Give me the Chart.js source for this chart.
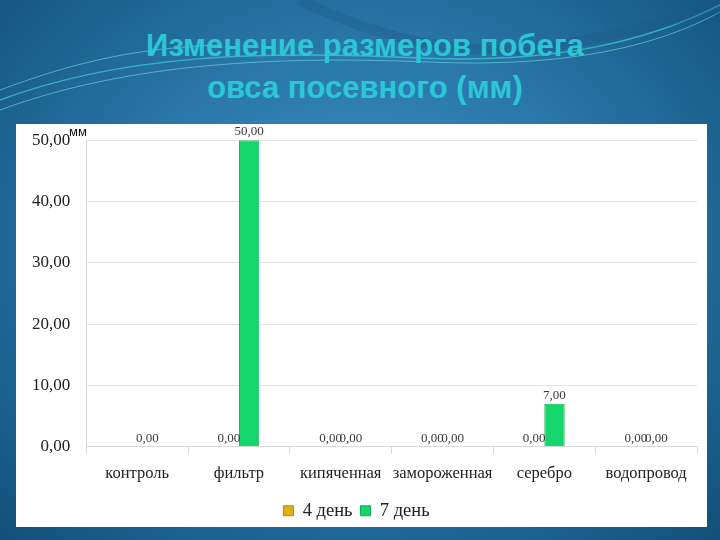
<!DOCTYPE html>
<html>
<head>
<meta charset="utf-8">
<script src="https://cdn.jsdelivr.net/npm/chart.js@4.4.1/dist/chart.umd.min.js"></script>
<style>
    html, body { margin: 0; padding: 0; }
    body {
        width: 720px; height: 540px; overflow: hidden; position: relative;
        background: radial-gradient(ellipse at 50% 45%, #3d8fc2 0%, #2a78aa 45%, #1a5f8c 80%, #134f77 100%);
        font-family: "Liberation Sans", Arial, sans-serif;
    }
    #waves { position: absolute; left: 0; top: 0; }
    #title {
        position: absolute; left: 0; top: 25px; width: 730px;
        text-align: center; color: #2cc7d6; font-weight: bold;
        font-size: 31px; line-height: 42px;
    }
    #panel {
        position: absolute; left: 16px; top: 124px; width: 691px; height: 403px;
        background: #fff;
    }
    #chart { position: absolute; left: 0; top: -10px; }
    #unit {
        position: absolute; left: 53px; top: 0px; font-size: 13px; color: #111;
        font-family: "Liberation Sans", Arial, sans-serif;
    }
</style>
</head>
<body>
<svg id="waves" width="720" height="540">
    <path d="M0,100 C120,55 260,50 420,58 C560,64 650,40 720,5" stroke="#3fd0d8" stroke-width="1.5" fill="none" opacity="0.7"/>
    <path d="M0,110 C130,62 280,56 430,62 C570,68 660,45 720,12" stroke="#6fe0e6" stroke-width="1" fill="none" opacity="0.6"/>
    <path d="M300,0 C380,40 470,60 560,45 C620,35 680,18 720,8" stroke="#1c5a86" stroke-width="10" fill="none" opacity="0.35"/>
    <path d="M0,90 C80,60 140,48 220,45" stroke="#8ff0f2" stroke-width="1" fill="none" opacity="0.5"/>
</svg>
<div id="title">Изменение размеров побега<br>овса посевного (мм)</div>
<div id="panel">
    <canvas id="chart" width="691" height="417"></canvas>
    <span id="unit">мм</span>
</div>
<script>
// chart data
const categories = ['контроль', 'фильтр', 'кипяченная', 'замороженная', 'серебро', 'водопровод'];
const day4 = [null, 0, 0, 0, 0, 0];
const day7 = [0, 50, 0, 0, 7, 0];
const yTicks = [0, 10, 20, 30, 40, 50];

function fmt(v) {
    return v.toFixed(2).replace('.', ',');
}

// value labels above bars
const valueLabels = {
    id: 'valueLabels',
    afterDatasetsDraw(chart) {
        let ctx = chart.ctx;
        ctx.save();
        ctx.font = '13px "Liberation Serif", serif';
        ctx.fillStyle = '#3a3a3a';
        ctx.textAlign = 'center';
        ctx.textBaseline = 'bottom';
        chart.data.datasets.forEach(function (ds, i) {
            chart.getDatasetMeta(i).data.forEach(function (bar, j) {
                if (ds.data[j] === null) return;
                ctx.fillText(fmt(ds.data[j]), bar.x, bar.y - 2);
            });
        });
        ctx.restore();
    }
};

new Chart(document.getElementById('chart'), {
    type: 'bar',
    data: {
        labels: categories,
        datasets: [
            {
                label: '4 день',
                data: day4,
                backgroundColor: '#e3b012',
                borderColor: '#b88a00',
                borderWidth: 1
            },
            {
                label: '7 день',
                data: day7,
                backgroundColor: '#14d66a',
                borderColor: '#0fae55',
                borderWidth: 1
            }
        ]
    },
    options: {
        responsive: false,
        animation: false,
        layout: { padding: { left: 0, right: 10, top: 4, bottom: 1 } },
        datasets: {
            bar: { categoryPercentage: 0.4, barPercentage: 1 }
        },
        plugins: {
            tooltip: { enabled: false },
            legend: {
                position: 'bottom',
                labels: {
                    boxWidth: 10,
                    boxHeight: 10,
                    padding: 8,
                    color: '#222',
                    font: { family: '"Liberation Serif", serif', size: 18.5, lineHeight: 0.95 }
                }
            }
        },
        scales: {
            x: {
                offset: true,
                grid: {
                    offset: true,
                    drawOnChartArea: false,
                    color: '#d9d9d9',
                    tickLength: 7
                },
                border: { color: '#d9d9d9' },
                ticks: {
                    color: '#222',
                    padding: 10,
                    maxRotation: 0,
                    autoSkip: false,
                    font: { family: '"Liberation Serif", serif', size: 16.5 }
                }
            },
            y: {
                min: 0,
                max: 50,
                afterBuildTicks(scale) {
                    scale.ticks = yTicks.map(function (v) { return { value: v }; });
                },
                grid: { color: '#e3e3e3', drawTicks: false },
                border: { color: '#d9d9d9' },
                ticks: {
                    color: '#222',
                    padding: 16,
                    font: { family: '"Liberation Serif", serif', size: 17 },
                    callback: function (v) { return fmt(v); }
                }
            }
        }
    },
    plugins: [valueLabels]
});
</script>
</body>
</html>
